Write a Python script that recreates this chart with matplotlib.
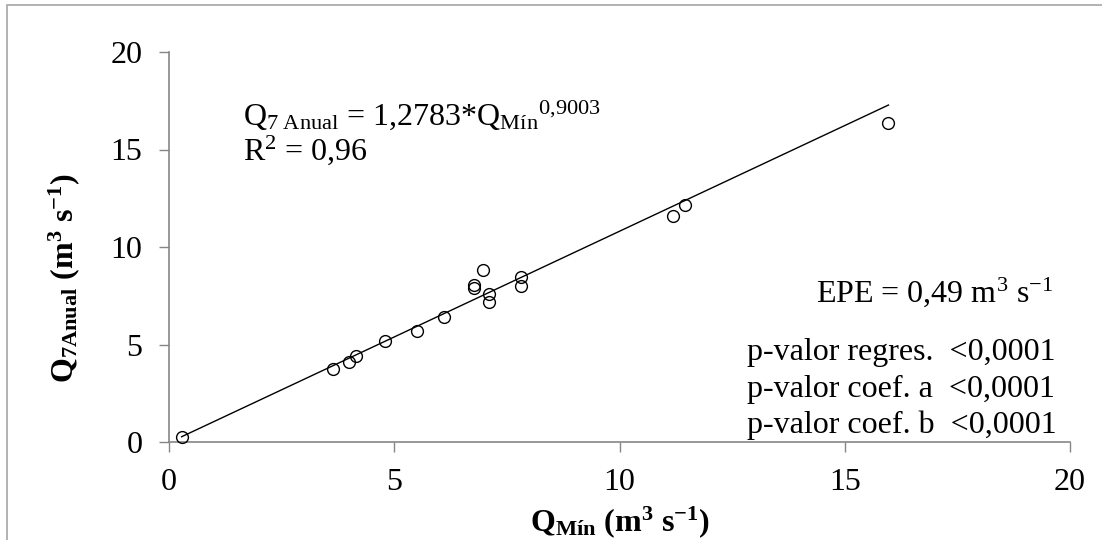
import matplotlib
matplotlib.use("Agg")
import matplotlib.pyplot as plt
from matplotlib.patches import Rectangle

plt.rcParams["font.family"] = ["Liberation Serif", "DejaVu Serif"]
plt.rcParams["mathtext.fontset"] = "custom"
plt.rcParams["mathtext.rm"] = "Liberation Serif"
plt.rcParams["mathtext.it"] = "Liberation Serif:italic"
plt.rcParams["mathtext.bf"] = "Liberation Serif:bold"
plt.rcParams["mathtext.default"] = "regular"

# observed minimum flow vs annual Q7 (m3/s)
q_min = [0.28, 3.65, 4.00, 4.14, 4.79, 5.50, 6.11, 6.76, 6.76, 6.98, 7.10, 7.10,
         7.81, 7.81, 11.18, 11.46, 15.97]
q7_anual = [0.27, 3.74, 4.12, 4.43, 5.20, 5.71, 6.39, 8.05, 7.88, 8.82, 7.59, 7.20,
            8.45, 8.00, 11.59, 12.15, 16.34]

# trend line as drawn in the original chart
trend_x = [0.28, 15.97]
trend_y = [0.27, 17.28]

x_ticks = [0, 5, 10, 15, 20]
y_ticks = [0, 5, 10, 15, 20]

stats_lines = ["p-valor regres.  <0,0001",
               "p-valor coef. a  <0,0001",
               "p-valor coef. b  <0,0001"]

FS = 23
W, H = 1102, 540
fig = plt.figure(figsize=(W / 100, H / 100), dpi=100)
ax = fig.add_axes([169 / W, (H - 442) / H, (1070 - 169) / W, (442 - 52) / H])

# outer chart frame (only left/top edges visible)
fig.add_artist(Rectangle((7 / W, -0.2), 2, (H - 5) / H + 0.2, transform=fig.transFigure,
                         fill=False, edgecolor="#a6a6a6", lw=1.2))

ax.plot(trend_x, trend_y, color="black", lw=1.0, zorder=2)
ax.plot(q_min, q7_anual, "o", ms=8.5, mfc="none", mec="black", mew=1.0, zorder=3,
        clip_on=False)

ax.set_xlim(0, 20)
ax.set_ylim(0, 20)
ax.set_xticks(x_ticks)
ax.set_yticks(y_ticks)
ax.tick_params(axis="both", direction="out", length=7, width=1, color="#868686",
               labelsize=FS, pad=12)

for s in ["top", "right"]:
    ax.spines[s].set_visible(False)
for s in ["left", "bottom"]:
    ax.spines[s].set_color("#868686")
    ax.spines[s].set_linewidth(1.2)

ax.set_xlabel(r"Q$_{Mín}$ (m$^3$ s$^{-1}$)", fontsize=FS, fontweight="bold")
ax.xaxis.set_label_coords(0.5, -0.16)
ax.set_ylabel(r"Q$_{7Anual}$ (m$^3$ s$^{-1}$)", fontsize=FS, fontweight="bold")
ax.yaxis.set_label_coords(-0.097, 0.42)

ax.text(1.64, 16.26, r"Q$_{7\ Anual}$ = 1,2783*Q$_{Mín}{}^{0{,}9003}$", fontsize=FS,
        va="baseline", ha="left")
ax.text(1.64, 14.46, r"R$^2$ = 0,96", fontsize=FS, va="baseline", ha="left")

ax.text(19.62, 7.18, r"EPE = 0,49 m$^3$ s$^{-1}$", fontsize=FS, va="baseline", ha="right")

for i, line in enumerate(stats_lines):
    ax.text(12.83, 4.2 - i * 1.87, line, fontsize=FS, va="baseline", ha="left")

fig.savefig("out.png", dpi=100)
